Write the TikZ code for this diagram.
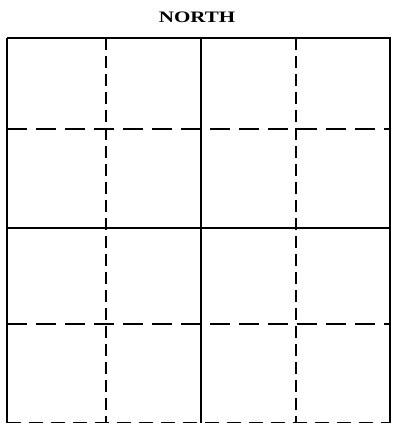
\documentclass[tikz,border=0pt]{standalone}
\usepackage{fontspec}
\newfontfamily\titlefont{Liberation Serif}
\begin{document}
\begin{tikzpicture}[x=1pt,y=1pt,
  frame/.style={line width=1.2pt},
  thickedge/.style={line width=2.4pt},
  solidline/.style={line width=1.3pt},
  dashline/.style={line width=1.4pt, dash pattern=on 12pt off 6pt},
  hdashline/.style={line width=1.4pt, dash pattern=on 20pt off 9pt},
  titlestyle/.style={inner sep=0pt}]
\useasboundingbox (0,0) rectangle (393,425);
% corners
\coordinate (tl) at (7,387);
\coordinate (tr) at (390,387);
\coordinate (bl) at (7,2);
\coordinate (br) at (390,2);
\node[titlestyle] (title) at (197,408) {\scalebox{1.45}[1.1]{\titlefont\bfseries\fontsize{14.5}{17}\selectfont NORTH}};
% outer frame
\draw[frame] (tl) -- (tr) -- (br);
\draw[thickedge] (tl) -- (bl);
\draw[line width=1pt, dash pattern=on 14pt off 8pt] (bl) -- (br);
% vertical lines
\coordinate (v1t) at (106,387); \coordinate (v1b) at (106,2);
\coordinate (v2t) at (201,387); \coordinate (v2b) at (201,2);
\coordinate (v3t) at (296,387); \coordinate (v3b) at (296,2);
\draw[dashline] (v1t) -- (v1b);
\draw[solidline] (v2t) -- (v2b);
\draw[dashline] (v3t) -- (v3b);
% horizontal lines
\coordinate (h1l) at (7,296); \coordinate (h1r) at (390,296);
\coordinate (h2l) at (7,197); \coordinate (h2r) at (390,197);
\coordinate (h3l) at (7,101); \coordinate (h3r) at (390,101);
\draw[hdashline] (h1l) -- (h1r);
\draw[solidline] (h2l) -- (h2r);
\draw[hdashline] (h3l) -- (h3r);
\end{tikzpicture}
\end{document}
